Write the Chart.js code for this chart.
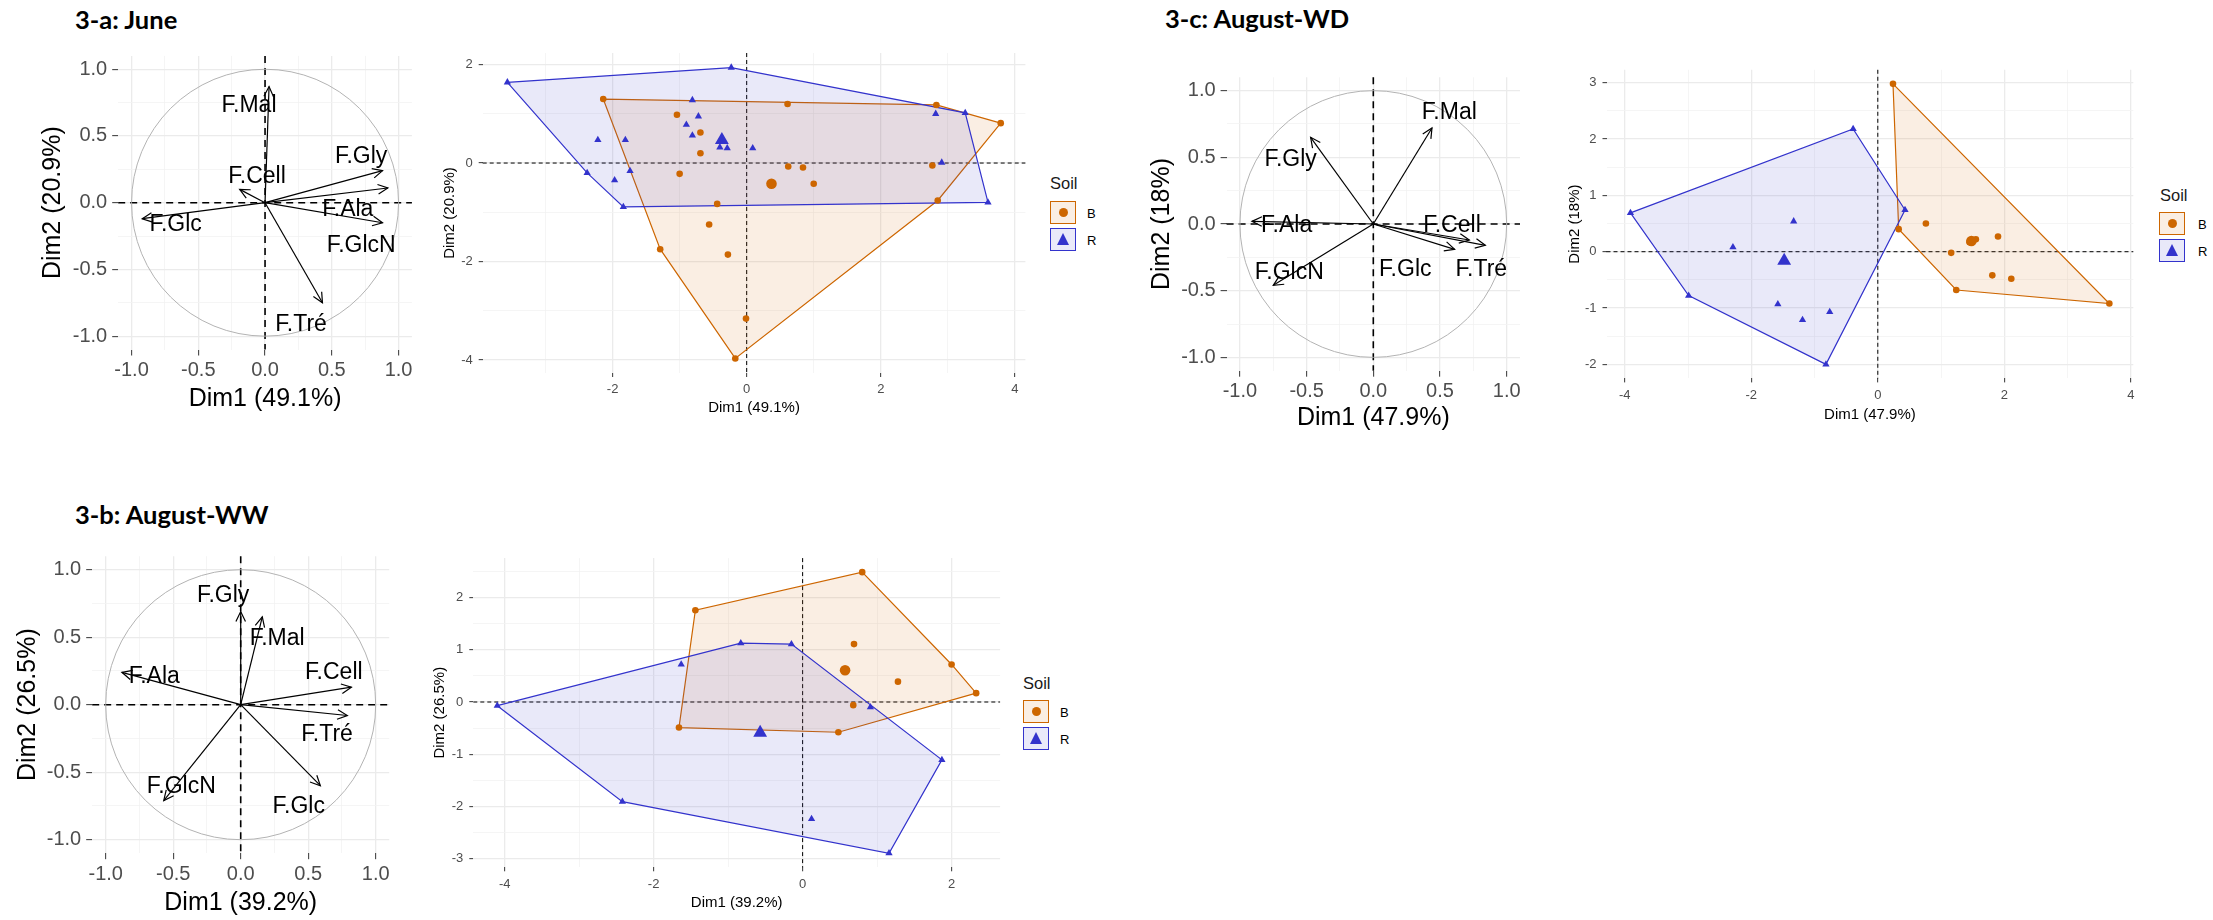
<!DOCTYPE html>
<html>
<head>
<meta charset="utf-8">
<script src="https://cdn.jsdelivr.net/npm/chart.js@4.4.1/dist/chart.umd.min.js"></script>
<style>
  body { margin: 0; width: 2213px; height: 920px; background: #fff; position: relative; overflow: hidden; font-family: 'Liberation Sans', Arial, sans-serif; }
  .box { position: absolute; }
  .title { position: absolute; font-family: Lato, 'Open Sans', sans-serif; font-weight: 700; font-size: 25.5px; line-height: 25.5px; color: #000; white-space: nowrap; }
  .soil { position: absolute; font-size: 16.5px; line-height: 16.5px; color: #1a1a1a; }
  .key { position: absolute; width: 24px; height: 21px; border: 1.5px solid; }
  .key-label { position: absolute; font-size: 13px; line-height: 13px; color: #000; }
  .dot { position: absolute; left: 7.5px; top: 6px; width: 9px; height: 9px; border-radius: 50%; }
  .tri { position: absolute; left: 5.5px; top: 4px; width: 0; height: 0; border-left: 6.5px solid transparent; border-right: 6.5px solid transparent; border-bottom: 12px solid; }
</style>
</head>
<body>
<div class="title" style="left:75px; top:7px;">3-a: June</div>
<div class="title" style="left:1165px; top:6px;">3-c: August-WD</div>
<div class="title" style="left:75px; top:502px;">3-b: August-WW</div>

<div class="box" id="boxA1"><canvas id="circleJune"></canvas></div>
<div class="box" id="boxA2"><canvas id="scatterJune"></canvas></div>
<div class="box" id="boxC1"><canvas id="circleWD"></canvas></div>
<div class="box" id="boxC2"><canvas id="scatterWD"></canvas></div>
<div class="box" id="boxB1"><canvas id="circleWW"></canvas></div>
<div class="box" id="boxB2"><canvas id="scatterWW"></canvas></div>

<script>
// ---- data ----
const soilGroups = ['B', 'R'];
const circleTickValues = [-1, -0.5, 0, 0.5, 1];
const circleTickLabels = ['-1.0', '-0.5', '0.0', '0.5', '1.0'];

// 3-a June
const juneVars = ['F.Mal', 'F.Gly', 'F.Ala', 'F.Cell', 'F.Glc', 'F.GlcN', 'F.Tré'];
const juneDim1 = [0.03, 0.88, 0.92, -0.19, -0.92, 0.88, 0.43];
const juneDim2 = [0.87, 0.24, 0.11, 0.10, -0.12, -0.15, -0.75];
const juneLabelDim1 = [-0.12, 0.72, 0.62, -0.06, -0.67, 0.72, 0.27];
const juneLabelDim2 = [0.74, 0.36, -0.04, 0.21, -0.15, -0.31, -0.90];
const juneBx = [-2.14, 0.61, 2.83, 3.79, 2.85, 2.77, 1.00, 0.84, 0.62, -1.04, -0.69, -0.69, -1.00, -0.44, -0.56, -1.29, -0.28, -0.01, -0.17];
const juneBy = [1.30, 1.20, 1.18, 0.81, -0.76, -0.05, -0.42, -0.09, -0.07, 0.98, 0.62, 0.20, -0.22, -0.83, -1.25, -1.75, -1.86, -3.16, -3.97];
const juneRx = [-3.57, -0.23, 3.26, 3.60, -1.84, -2.38, -2.22, -1.81, -1.97, -1.74, -0.81, -0.72, -0.90, -0.81, -0.40, -0.29, 0.09, 2.82, 2.91];
const juneRy = [1.64, 1.94, 1.02, -0.80, -0.89, -0.20, 0.47, 0.47, -0.35, -0.16, 1.28, 0.95, 0.78, 0.56, 0.32, 0.30, 0.30, 1.00, 0.01];
const juneMeanB = [0.37, -0.42];
const juneMeanR = [-0.37, 0.47];
const juneTicksX = [-2, 0, 2, 4];
const juneTicksY = [-4, -2, 0, 2];

// 3-c August-WD
const wdVars = ['F.Mal', 'F.Gly', 'F.Ala', 'F.GlcN', 'F.Cell', 'F.Glc', 'F.Tré'];
const wdDim1 = [0.44, -0.47, -0.91, -0.75, 0.72, 0.61, 0.84];
const wdDim2 = [0.72, 0.65, 0.02, -0.46, -0.12, -0.19, -0.16];
const wdLabelDim1 = [0.57, -0.62, -0.65, -0.63, 0.59, 0.24, 0.81];
const wdLabelDim2 = [0.85, 0.50, 0.00, -0.35, 0.00, -0.33, -0.33];
const wdBx = [0.24, 0.33, 0.76, 1.24, 3.66, 1.16, 1.81, 2.11, 1.90, 1.55, 1.45];
const wdBy = [2.98, 0.40, 0.50, -0.68, -0.92, -0.02, -0.42, -0.48, 0.27, 0.22, 0.17];
const wdRx = [-3.91, -0.39, 0.43, -0.82, -2.99, -1.33, -2.29, -1.58, -1.19, -0.76];
const wdRy = [0.69, 2.18, 0.74, -2.00, -0.78, 0.54, 0.08, -0.93, -1.21, -1.07];
const wdMeanB = [1.48, 0.19];
const wdMeanR = [-1.48, -0.16];
const wdTicksX = [-4, -2, 0, 2, 4];
const wdTicksY = [-2, -1, 0, 1, 2, 3];

// 3-b August-WW
const wwVars = ['F.Gly', 'F.Mal', 'F.Ala', 'F.Cell', 'F.Tré', 'F.Glc', 'F.GlcN'];
const wwDim1 = [0.00, 0.16, -0.88, 0.82, 0.79, 0.59, -0.57];
const wwDim2 = [0.69, 0.65, 0.24, 0.13, -0.08, -0.60, -0.71];
const wwLabelDim1 = [-0.13, 0.27, -0.64, 0.69, 0.64, 0.43, -0.44];
const wwLabelDim2 = [0.82, 0.50, 0.22, 0.25, -0.21, -0.74, -0.59];
const wwBx = [-1.44, 0.80, 2.00, 2.33, 0.48, -1.66, 0.69, 1.28, 0.68];
const wwBy = [1.76, 2.49, 0.72, 0.17, -0.58, -0.49, 1.11, 0.39, -0.06];
const wwRx = [-4.10, -0.83, -0.15, 1.87, 1.16, -2.42, -1.63, 0.91, 0.12];
const wwRy = [-0.07, 1.13, 1.11, -1.11, -2.90, -1.91, 0.72, -0.10, -2.24];
const wwMeanB = [0.57, 0.61];
const wwMeanR = [-0.57, -0.59];
const wwTicksX = [-4, -2, 0, 2];
const wwTicksY = [-3, -2, -1, 0, 1, 2];

// ---- styling / helpers ----
const FONT = "'Liberation Sans', Arial, sans-serif";
const colB = '#CD6600';
const colR = '#3333CC';
const fillB = 'rgba(205, 102, 0, 0.11)';
const fillR = 'rgba(51, 51, 204, 0.11)';

function toPoints(xs, ys) {
  return xs.map((x, i) => ({ x: x, y: ys[i] }));
}

// convex hull (monotone chain), closed
function hull(pts) {
  const p = pts.slice().sort((a, b) => a.x - b.x || a.y - b.y);
  const cross = (o, a, b) => (a.x - o.x) * (b.y - o.y) - (a.y - o.y) * (b.x - o.x);
  const lower = [], upper = [];
  for (const q of p) {
    while (lower.length >= 2 && cross(lower[lower.length - 2], lower[lower.length - 1], q) <= 0) lower.pop();
    lower.push(q);
  }
  for (const q of p.slice().reverse()) {
    while (upper.length >= 2 && cross(upper[upper.length - 2], upper[upper.length - 1], q) <= 0) upper.pop();
    upper.push(q);
  }
  const h = lower.slice(0, -1).concat(upper.slice(0, -1));
  h.push(h[0]);
  return h;
}

function expand(values) {
  const lo = Math.min(...values), hi = Math.max(...values);
  const pad = (hi - lo) * 0.05;
  return [lo - pad, hi + pad];
}

function withMinor(major, lo, hi) {
  const step = major[1] - major[0];
  const ticks = major.map(v => ({ value: v }));
  for (let v = major[0] - step / 2; v <= major[major.length - 1] + step / 2 + 1e-9; v += step) {
    if (v >= lo && v <= hi) ticks.push({ value: v, minor: true });
  }
  return ticks.sort((a, b) => a.value - b.value);
}

function place(id, box, area) {
  const el = document.getElementById(id);
  el.style.left = box[0] + 'px';
  el.style.top = box[1] + 'px';
  el.style.width = (box[2] - box[0]) + 'px';
  el.style.height = (box[3] - box[1]) + 'px';
  return {
    yWidth: area[0] - box[0],
    xHeight: box[3] - area[3],
    padding: { left: 0, top: area[1] - box[1], right: box[2] - area[2], bottom: 0 },
  };
}

function axis(o) {
  const isMinor = c => c.tick && c.tick.minor;
  return {
    type: 'linear',
    min: o.range[0],
    max: o.range[1],
    afterBuildTicks: s => { s.ticks = withMinor(o.values, o.range[0], o.range[1]); },
    afterFit: s => { if (o.horizontal) s.height = o.size; else s.width = o.size; },
    ticks: {
      autoSkip: false, maxRotation: 0, minRotation: 0,
      padding: o.pad, color: '#4D4D4D',
      font: { family: FONT, size: o.tickSize },
      callback: (v, i, ticks) => ticks[i].minor ? '' : o.labels[o.values.indexOf(v)],
    },
    grid: {
      color: c => isMinor(c) ? '#F3F3F3' : '#EBEBEB',
      lineWidth: c => isMinor(c) ? 0.8 : 1.3,
      tickColor: c => isMinor(c) ? 'rgba(0,0,0,0)' : '#333333',
      tickLength: o.tickLen,
      tickWidth: 1,
    },
    border: { display: false },
    title: { display: true, text: o.title, color: '#000', font: { family: FONT, size: o.titleSize }, padding: 0 },
  };
}

function zeroLines(width, dash) {
  return {
    id: 'zeroLines',
    beforeDatasetsDraw(chart) {
      const { ctx, chartArea: a, scales: { x, y } } = chart;
      const px = x.getPixelForValue(0), py = y.getPixelForValue(0);
      ctx.save();
      ctx.strokeStyle = '#000';
      ctx.lineWidth = width;
      ctx.setLineDash(dash);
      ctx.beginPath();
      ctx.moveTo(a.left, py); ctx.lineTo(a.right, py);
      ctx.moveTo(px, a.top); ctx.lineTo(px, a.bottom);
      ctx.stroke();
      ctx.restore();
    },
  };
}

function circleChart(canvasId, boxId, box, area, vars, d1, d2, l1, l2, xTitle, yTitle) {
  const lay = place(boxId, box, area);
  const range = [-1.1, 1.1];
  const datasets = vars.map((v, i) => ({
    label: v,
    data: [{ x: 0, y: 0 }, { x: d1[i], y: d2[i] }],
    showLine: true, borderColor: '#000', borderWidth: 1.2, pointRadius: 0, fill: false,
  }));
  const decor = {
    id: 'decor',
    beforeDatasetsDraw(chart) {
      const { ctx, scales: { x, y } } = chart;
      const cx = x.getPixelForValue(0), cy = y.getPixelForValue(0);
      ctx.save();
      ctx.strokeStyle = '#B3B3B3';
      ctx.lineWidth = 1;
      ctx.beginPath();
      ctx.ellipse(cx, cy, x.getPixelForValue(1) - cx, cy - y.getPixelForValue(1), 0, 0, Math.PI * 2);
      ctx.stroke();
      ctx.restore();
    },
    afterDatasetsDraw(chart) {
      const { ctx, scales: { x, y } } = chart;
      const ox = x.getPixelForValue(0), oy = y.getPixelForValue(0);
      ctx.save();
      ctx.strokeStyle = '#000';
      ctx.lineWidth = 1.2;
      vars.forEach((v, i) => {
        const tx = x.getPixelForValue(d1[i]), ty = y.getPixelForValue(d2[i]);
        const ang = Math.atan2(ty - oy, tx - ox);
        const len = 11, spread = Math.PI / 7;
        ctx.beginPath();
        ctx.moveTo(tx - len * Math.cos(ang - spread), ty - len * Math.sin(ang - spread));
        ctx.lineTo(tx, ty);
        ctx.lineTo(tx - len * Math.cos(ang + spread), ty - len * Math.sin(ang + spread));
        ctx.stroke();
      });
      ctx.fillStyle = '#000';
      ctx.font = '23px ' + FONT;
      ctx.textAlign = 'center';
      ctx.textBaseline = 'alphabetic';
      vars.forEach((v, i) => {
        ctx.fillText(v, x.getPixelForValue(l1[i]), y.getPixelForValue(l2[i]) + 23 * 0.358);
      });
      ctx.restore();
    },
  };
  return new Chart(document.getElementById(canvasId), {
    type: 'scatter',
    data: { datasets },
    options: {
      responsive: true, maintainAspectRatio: false, animation: false,
      layout: { padding: lay.padding },
      plugins: { legend: { display: false }, tooltip: { enabled: false } },
      scales: {
        x: axis({ range, values: circleTickValues, labels: circleTickLabels, horizontal: true, size: lay.xHeight, pad: 3, tickLen: 6, tickSize: 20, title: xTitle, titleSize: 25 }),
        y: axis({ range, values: circleTickValues, labels: circleTickLabels, horizontal: false, size: lay.yWidth, pad: 5, tickLen: 6, tickSize: 20, title: yTitle, titleSize: 25 }),
      },
    },
    plugins: [zeroLines(1.6, [7, 5]), decor],
  });
}

function scatterChart(canvasId, boxId, box, area, bx, by, rx, ry, meanB, meanR, ticksX, ticksY, xTitle, yTitle) {
  const lay = place(boxId, box, area);
  const ptsB = toPoints(bx, by), ptsR = toPoints(rx, ry);
  const rangeX = expand(bx.concat(rx));
  const rangeY = expand(by.concat(ry));
  const datasets = [
    { label: 'hullB', data: hull(ptsB), showLine: true, fill: 'shape', backgroundColor: fillB, borderColor: colB, borderWidth: 1.2, pointRadius: 0, order: 4 },
    { label: 'hullR', data: hull(ptsR), showLine: true, fill: 'shape', backgroundColor: fillR, borderColor: colR, borderWidth: 1.2, pointRadius: 0, order: 3 },
    { label: soilGroups[0], data: ptsB, pointStyle: 'circle', pointRadius: 3.3, backgroundColor: colB, borderWidth: 0, order: 2 },
    { label: soilGroups[1], data: ptsR, pointStyle: 'triangle', pointRadius: 4.2, backgroundColor: colR, borderWidth: 0, order: 2 },
    { label: 'meanB', data: [{ x: meanB[0], y: meanB[1] }], pointStyle: 'circle', pointRadius: 5.3, backgroundColor: colB, borderWidth: 0, order: 1 },
    { label: 'meanR', data: [{ x: meanR[0], y: meanR[1] }], pointStyle: 'triangle', pointRadius: 8, backgroundColor: colR, borderWidth: 0, order: 1 },
  ];
  return new Chart(document.getElementById(canvasId), {
    type: 'scatter',
    data: { datasets },
    options: {
      responsive: true, maintainAspectRatio: false, animation: false,
      layout: { padding: lay.padding },
      plugins: { legend: { display: false }, tooltip: { enabled: false } },
      scales: {
        x: axis({ range: rangeX, values: ticksX, labels: ticksX.map(String), horizontal: true, size: lay.xHeight, pad: 5, tickLen: 4, tickSize: 13, title: xTitle, titleSize: 15 }),
        y: axis({ range: rangeY, values: ticksY, labels: ticksY.map(String), horizontal: false, size: lay.yWidth, pad: 6, tickLen: 4, tickSize: 13, title: yTitle, titleSize: 15 }),
      },
    },
    plugins: [zeroLines(1, [4, 3])],
  });
}

function soilLegend(left, top, boxLeft, boxTop, textLeft) {
  const html = [];
  html.push(`<div class="soil" style="left:${left}px; top:${top}px;">Soil</div>`);
  const cols = [colB, colR], fills = [fillB, fillR];
  soilGroups.forEach((g, i) => {
    const t = boxTop + i * 26.5;
    const mark = i === 0
      ? `<div class="dot" style="background:${cols[i]}"></div>`
      : `<div class="tri" style="border-bottom-color:${cols[i]}"></div>`;
    html.push(`<div class="key" style="left:${boxLeft}px; top:${t}px; border-color:${cols[i]}; background:${fills[i]}">${mark}</div>`);
    html.push(`<div class="key-label" style="left:${textLeft}px; top:${t + 6}px;">${g}</div>`);
  });
  const wrap = document.createElement('div');
  wrap.innerHTML = html.join('');
  document.body.appendChild(wrap);
}

// ---- charts ----
circleChart('circleJune', 'boxA1', [38, 30, 440, 414], [118.2, 55.9, 411.9, 349.5],
  juneVars, juneDim1, juneDim2, juneLabelDim1, juneLabelDim2, 'Dim1 (49.1%)', 'Dim2 (20.9%)');
scatterChart('scatterJune', 'boxA2', [441, 30, 1048, 417], [482.7, 53.0, 1025.4, 373.0],
  juneBx, juneBy, juneRx, juneRy, juneMeanB, juneMeanR, juneTicksX, juneTicksY, 'Dim1 (49.1%)', 'Dim2 (20.9%)');

circleChart('circleWD', 'boxC1', [1147, 50, 1545, 433], [1226.6, 77.3, 1520.0, 370.7],
  wdVars, wdDim1, wdDim2, wdLabelDim1, wdLabelDim2, 'Dim1 (47.9%)', 'Dim2 (18%)');
scatterChart('scatterWD', 'boxC2', [1566, 45, 2155, 424], [1606.5, 69.8, 2133.3, 378.4],
  wdBx, wdBy, wdRx, wdRy, wdMeanB, wdMeanR, wdTicksX, wdTicksY, 'Dim1 (47.9%)', 'Dim2 (18%)');

circleChart('circleWW', 'boxB1', [13, 530, 415, 918], [92.2, 556.2, 389.2, 853.2],
  wwVars, wwDim1, wwDim2, wwLabelDim1, wwLabelDim2, 'Dim1 (39.2%)', 'Dim2 (26.5%)');
scatterChart('scatterWW', 'boxB2', [431, 535, 1022, 912], [473.3, 558.1, 1000.1, 867.3],
  wwBx, wwBy, wwRx, wwRy, wwMeanB, wwMeanR, wwTicksX, wwTicksY, 'Dim1 (39.2%)', 'Dim2 (26.5%)');

soilLegend(1050, 175, 1050, 201, 1087);
soilLegend(2160, 187, 2159, 212, 2198);
soilLegend(1023, 675, 1023, 700, 1060);
</script>
</body>
</html>
